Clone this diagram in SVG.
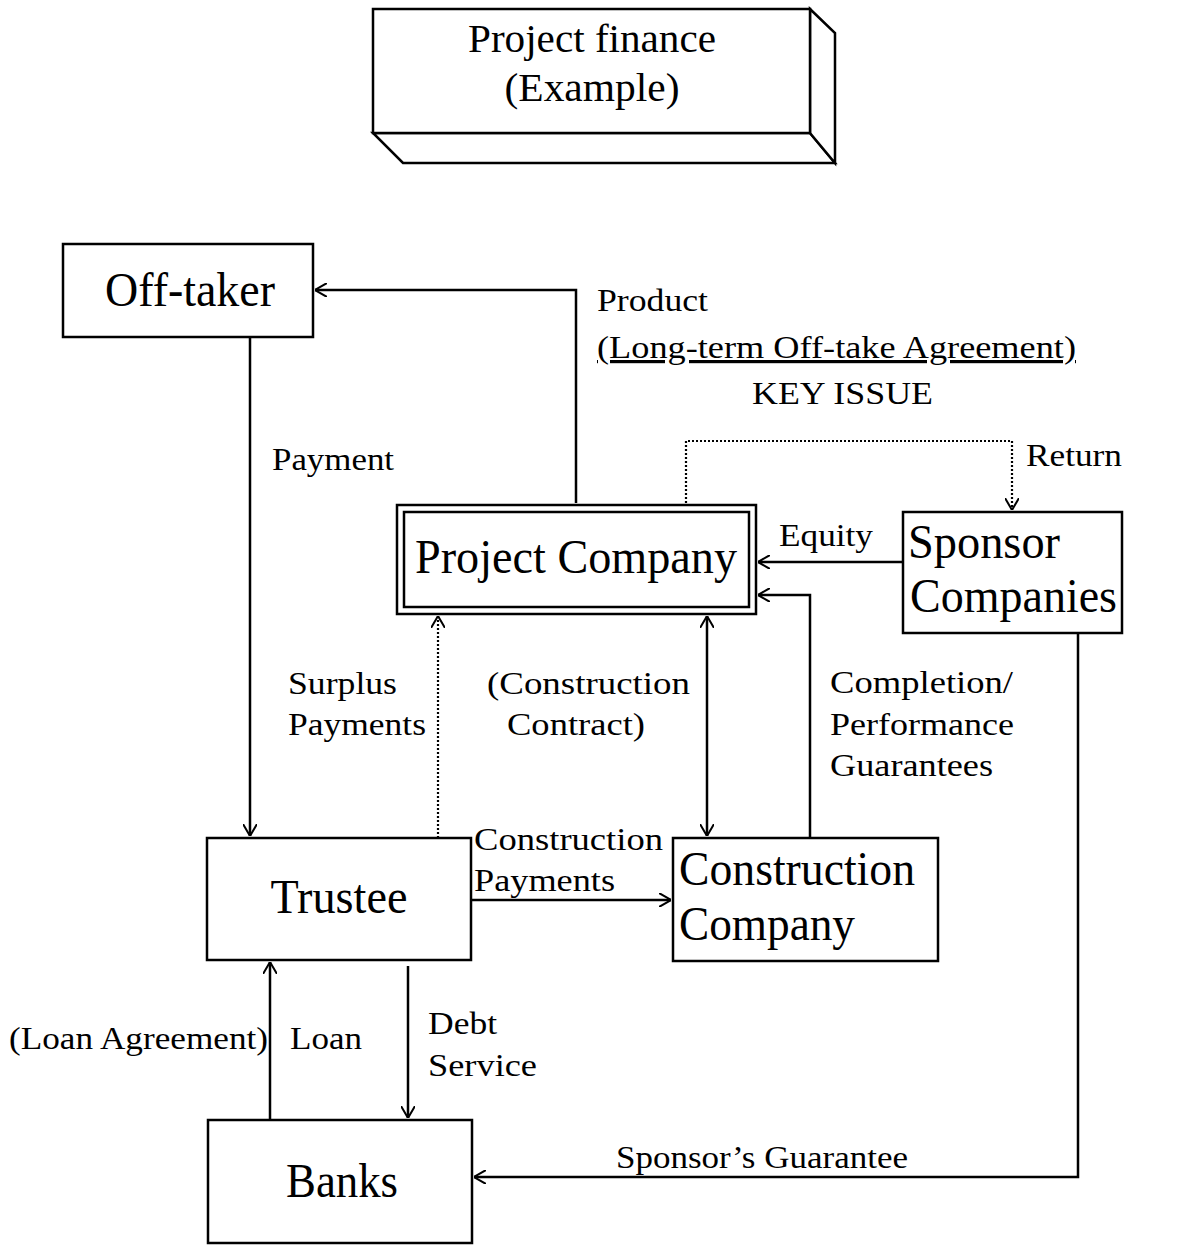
<svg xmlns="http://www.w3.org/2000/svg" width="1204" height="1245" viewBox="0 0 1204 1245">
<style>
  .box { fill: #fff; stroke: #000; stroke-width: 2.5; }
  .node { font-family: "Liberation Serif", "Times New Roman", serif; font-size: 48px; fill: #000; }
  .lbl { font-family: "Liberation Serif", "Times New Roman", serif; font-size: 32px; fill: #000; }
  .title { font-family: "Liberation Serif", "Times New Roman", serif; font-size: 39px; fill: #000; }
  .ln { fill: none; stroke: #000; stroke-width: 2.5; }
  .dot { fill: none; stroke: #000; stroke-width: 2.2; stroke-dasharray: 2 2; }
</style>
<defs>
  <marker id="arr" viewBox="0 0 12 14" refX="12" refY="7" markerWidth="12" markerHeight="14" markerUnits="userSpaceOnUse" orient="auto-start-reverse">
    <path d="M0,0 L12,7 L0,14" fill="none" stroke="#000" stroke-width="2"/>
  </marker>
</defs>
<rect width="1204" height="1245" fill="#fff"/>

<g id="title">
  <polygon class="box" points="373,133 810,133 835,163 403,163"/>
  <polygon class="box" points="810,9 835,33 835,163 810,133"/>
  <rect class="box" x="373" y="9" width="437" height="124"/>
  <text class="title" x="592" y="52" text-anchor="middle" textLength="248" lengthAdjust="spacingAndGlyphs">Project finance</text>
  <text class="title" x="592" y="101" text-anchor="middle" textLength="175" lengthAdjust="spacingAndGlyphs">(Example)</text>
</g>

<g id="connectors">
  <polyline class="ln" points="576,503 576,290 315,290" marker-end="url(#arr)"/>
  <line class="ln" x1="250" y1="337" x2="250" y2="836" marker-end="url(#arr)"/>
  <polyline class="dot" points="686,503 686,441 1012,441 1012,510" marker-end="url(#arr)"/>
  <line class="ln" x1="903" y1="562" x2="758" y2="562" marker-end="url(#arr)"/>
  <polyline class="ln" points="810,838 810,595 758,595" marker-end="url(#arr)"/>
  <line class="ln" x1="707" y1="616" x2="707" y2="836" marker-start="url(#arr)" marker-end="url(#arr)"/>
  <line class="dot" x1="438" y1="838" x2="438" y2="616" marker-end="url(#arr)"/>
  <line class="ln" x1="471" y1="900" x2="671" y2="900" marker-end="url(#arr)"/>
  <line class="ln" x1="270" y1="1120" x2="270" y2="962" marker-end="url(#arr)"/>
  <line class="ln" x1="408" y1="966" x2="408" y2="1118" marker-end="url(#arr)"/>
  <polyline class="ln" points="1078,633 1078,1177 474,1177" marker-end="url(#arr)"/>
</g>

<g id="labels">
  <text class="lbl" x="597" y="311" textLength="111" lengthAdjust="spacingAndGlyphs">Product</text>
  <text class="lbl" x="597" y="358" textLength="479" lengthAdjust="spacingAndGlyphs" text-decoration="underline">(Long-term Off-take Agreement)</text>
  <text class="lbl" x="752" y="404" textLength="181" lengthAdjust="spacingAndGlyphs">KEY ISSUE</text>
  <text class="lbl" x="1026" y="466" textLength="96" lengthAdjust="spacingAndGlyphs">Return</text>
  <text class="lbl" x="272" y="470" textLength="122" lengthAdjust="spacingAndGlyphs">Payment</text>
  <text class="lbl" x="779" y="546" textLength="94" lengthAdjust="spacingAndGlyphs">Equity</text>
  <text class="lbl" x="288" y="694" textLength="109" lengthAdjust="spacingAndGlyphs">Surplus</text>
  <text class="lbl" x="288" y="735" textLength="138" lengthAdjust="spacingAndGlyphs">Payments</text>
  <text class="lbl" x="487" y="694" textLength="203" lengthAdjust="spacingAndGlyphs">(Construction</text>
  <text class="lbl" x="507" y="735" textLength="138" lengthAdjust="spacingAndGlyphs">Contract)</text>
  <text class="lbl" x="830" y="693" textLength="183" lengthAdjust="spacingAndGlyphs">Completion/</text>
  <text class="lbl" x="830" y="735" textLength="184" lengthAdjust="spacingAndGlyphs">Performance</text>
  <text class="lbl" x="830" y="776" textLength="163" lengthAdjust="spacingAndGlyphs">Guarantees</text>
  <text class="lbl" x="474" y="850" textLength="189" lengthAdjust="spacingAndGlyphs">Construction</text>
  <text class="lbl" x="474" y="891" textLength="141" lengthAdjust="spacingAndGlyphs">Payments</text>
  <text class="lbl" x="9" y="1049" textLength="259" lengthAdjust="spacingAndGlyphs">(Loan Agreement)</text>
  <text class="lbl" x="290" y="1049" textLength="72" lengthAdjust="spacingAndGlyphs">Loan</text>
  <text class="lbl" x="428" y="1034" textLength="69" lengthAdjust="spacingAndGlyphs">Debt</text>
  <text class="lbl" x="428" y="1076" textLength="109" lengthAdjust="spacingAndGlyphs">Service</text>
  <text class="lbl" x="616" y="1168" textLength="292" lengthAdjust="spacingAndGlyphs">Sponsor’s Guarantee</text>
</g>

<g id="offtaker">
  <rect class="box" x="63" y="244" width="250" height="93"/>
  <text class="node" x="190" y="306" text-anchor="middle" textLength="170" lengthAdjust="spacingAndGlyphs">Off-taker</text>
</g>
<g id="project-company">
  <rect class="box" x="397" y="505" width="359" height="109"/>
  <rect class="box" x="404" y="512" width="345" height="95"/>
  <text class="node" x="576" y="573" text-anchor="middle" textLength="322" lengthAdjust="spacingAndGlyphs">Project Company</text>
</g>
<g id="sponsor">
  <rect class="box" x="903" y="512" width="219" height="121"/>
  <text class="node" x="908" y="558" textLength="152" lengthAdjust="spacingAndGlyphs">Sponsor</text>
  <text class="node" x="910" y="612" textLength="207" lengthAdjust="spacingAndGlyphs">Companies</text>
</g>
<g id="trustee">
  <rect class="box" x="207" y="838" width="264" height="122"/>
  <text class="node" x="339" y="913" text-anchor="middle" textLength="137" lengthAdjust="spacingAndGlyphs">Trustee</text>
</g>
<g id="construction-company">
  <rect class="box" x="673" y="838" width="265" height="123"/>
  <text class="node" x="679" y="885" textLength="236" lengthAdjust="spacingAndGlyphs">Construction</text>
  <text class="node" x="679" y="940" textLength="176" lengthAdjust="spacingAndGlyphs">Company</text>
</g>
<g id="banks">
  <rect class="box" x="208" y="1120" width="264" height="123"/>
  <text class="node" x="342" y="1197" text-anchor="middle" textLength="112" lengthAdjust="spacingAndGlyphs">Banks</text>
</g>
</svg>
